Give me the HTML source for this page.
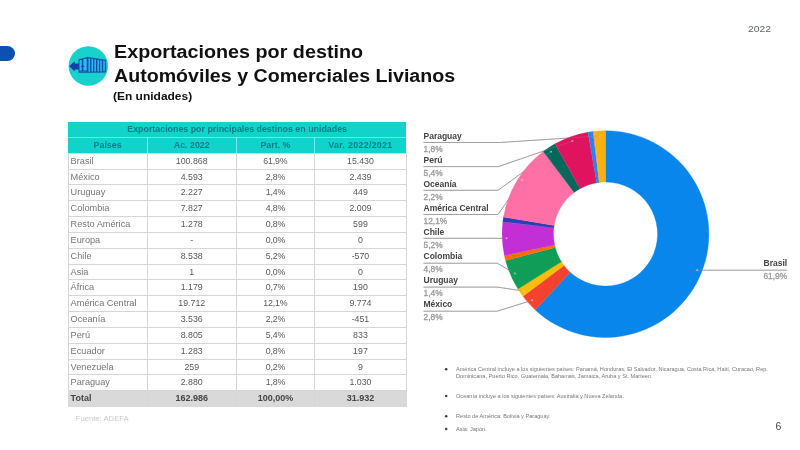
<!DOCTYPE html>
<html lang="es"><head><meta charset="utf-8"><title>Exportaciones por destino</title>
<style>
html,body{margin:0;padding:0;background:#fff;}
body{width:800px;height:450px;position:relative;overflow:hidden;font-family:"Liberation Sans",sans-serif;}
#stage{position:absolute;left:0;top:0;width:800px;height:450px;overflow:hidden;will-change:transform;}
.abs{position:absolute;white-space:nowrap;}
.pill{position:absolute;left:-8px;top:46px;width:22.7px;height:15.2px;border-radius:7.6px;background:#0d50b0;}
.t1{position:absolute;white-space:nowrap;left:114.3px;font-weight:bold;color:#111;font-size:18px;line-height:20px;transform-origin:0 0;transform:scaleX(1.097);}
.t3{position:absolute;white-space:nowrap;left:113.0px;font-weight:bold;color:#111;font-size:11.3px;line-height:12px;transform-origin:0 0;transform:scaleX(1.06);}
.yr{position:absolute;left:748px;top:23.2px;font-size:9.3px;line-height:12px;color:#60656d;transform-origin:0 0;transform:scaleX(1.11);}
.pg{position:absolute;left:775.5px;top:418.6px;font-size:10.5px;line-height:14px;color:#484848;}
.c{position:absolute;white-space:nowrap;text-align:center;font-size:9px;overflow:hidden;}
.h{color:#0b7d84;font-weight:bold;font-size:8.85px;}
.ls1{letter-spacing:0px;}
.ls2{letter-spacing:0.3px;}
.n{color:#747474;font-size:9.2px;}
.v{color:#585858;font-size:8.8px;}
.p{letter-spacing:-0.15px;}
.tn,.tv{color:#444;font-weight:bold;font-size:9px;}
.hbg{position:absolute;background:#12d3cc;}
.tbg{position:absolute;background:#d9d9d9;}
.gh{position:absolute;height:1px;background:#d6d6d6;}
.gv{position:absolute;width:1px;background:#d6d6d6;}
.src{position:absolute;left:75.7px;top:414.2px;font-size:7.7px;line-height:10px;color:#cacaca;}
.ln{font:bold 8.5px "Liberation Sans",sans-serif;fill:#424242;}
.lp{font:8.4px "Liberation Sans",sans-serif;fill:#999;stroke:#999;stroke-width:0.3px;}
.note{position:absolute;left:456px;font-size:5.58px;line-height:7.3px;color:#777;white-space:nowrap;}
.bul{position:absolute;left:444.9px;width:2.7px;height:2.7px;border-radius:50%;background:#444;}
</style></head><body><div id="stage">
<div class="pill"></div>
<svg class="abs" style="left:0;top:0" width="800" height="450" viewBox="0 0 800 450">
<circle cx="88.3" cy="66" r="19.7" fill="#16d1cc"/>
<g>
<polygon points="69.1,66.2 74.7,61.3 74.7,63.6 79.2,63.6 79.2,69.6 74.7,69.6 74.7,71.6" fill="#1440ad"/>
<polygon points="78.8,59.5 87.5,57.3 105.8,60.1 105.8,72.2 87.5,72.6 78.8,72.5" fill="#0e4da6" stroke="#0e4da6" stroke-width="0.5" stroke-linejoin="round"/>
<polygon points="88.50,58.35 90.05,58.59 90.05,71.64 88.50,71.68" fill="#2dbdf3"/>
<polygon points="91.45,58.80 93.00,59.04 93.00,71.58 91.45,71.61" fill="#2dbdf3"/>
<polygon points="94.40,59.26 95.95,59.49 95.95,71.52 94.40,71.55" fill="#2dbdf3"/>
<polygon points="97.35,59.71 98.90,59.94 98.90,71.45 97.35,71.48" fill="#2dbdf3"/>
<polygon points="100.30,60.16 101.85,60.40 101.85,71.39 100.30,71.42" fill="#2dbdf3"/>
<polygon points="103.25,60.61 104.80,60.85 104.80,71.32 103.25,71.36" fill="#2dbdf3"/>
<polygon points="79.50,60.22 81.70,59.67 81.70,70.6 79.50,70.6" fill="#2dbdf3"/>
<polygon points="83.40,59.24 86.70,58.40 86.70,70.6 83.40,70.6" fill="#2dbdf3"/>
<rect x="79.5" y="71.4" width="7.2" height="0.5" fill="#2dbdf3" opacity="0.6"/>
<rect x="80.8" y="65.9" width="3.6" height="0.9" fill="#0e4da6"/>
</g>
<polyline points="423.5,142.5 500.3,142.5 599.5,136.0" fill="none" stroke="#8d8d8d" stroke-width="0.8"/>
<polyline points="423.5,166.6 498.4,166.6 572.4,141.1" fill="none" stroke="#8d8d8d" stroke-width="0.8"/>
<polyline points="423.5,190.3 498.0,190.3 551.0,151.7" fill="none" stroke="#8d8d8d" stroke-width="0.8"/>
<polyline points="423.5,214.5 498.0,214.5 522.0,180.0" fill="none" stroke="#8d8d8d" stroke-width="0.8"/>
<polyline points="423.5,238.3 506.6,238.3 506.6,238.3" fill="none" stroke="#8d8d8d" stroke-width="0.8"/>
<polyline points="423.5,263.2 497.2,263.2 515.0,273.5" fill="none" stroke="#8d8d8d" stroke-width="0.8"/>
<polyline points="423.5,287.1 497.2,287.1 523.9,291.1" fill="none" stroke="#8d8d8d" stroke-width="0.8"/>
<polyline points="423.5,311.2 497.2,311.2 532.1,300.3" fill="none" stroke="#8d8d8d" stroke-width="0.8"/>
<polyline points="697.2,270.2 787.2,270.2" fill="none" stroke="#8d8d8d" stroke-width="0.8"/>
<path d="M605.50,130.65A103.4,103.4 0 1 1 535.25,309.92L570.17,272.21A52.0,52.0 0 1 0 605.50,182.05Z" fill="#0886ec" stroke="#0886ec" stroke-width="0.3"/>
<path d="M535.25,309.92A103.4,103.4 0 0 1 522.99,296.36L564.00,265.39A52.0,52.0 0 0 0 570.17,272.21Z" fill="#f4422f" stroke="#f4422f" stroke-width="0.3"/>
<path d="M522.99,296.36A103.4,103.4 0 0 1 517.95,289.06L561.47,261.71A52.0,52.0 0 0 0 564.00,265.39Z" fill="#fbbc04" stroke="#fbbc04" stroke-width="0.3"/>
<path d="M517.95,289.06A103.4,103.4 0 0 1 505.55,260.56L555.24,247.38A52.0,52.0 0 0 0 561.47,261.71Z" fill="#0f9d58" stroke="#0f9d58" stroke-width="0.3"/>
<path d="M505.55,260.56A103.4,103.4 0 0 1 504.37,255.60L554.64,244.89A52.0,52.0 0 0 0 555.24,247.38Z" fill="#ff6d0a" stroke="#ff6d0a" stroke-width="0.3"/>
<path d="M504.37,255.60A103.4,103.4 0 0 1 502.83,221.76L553.87,227.87A52.0,52.0 0 0 0 554.64,244.89Z" fill="#c32fd6" stroke="#c32fd6" stroke-width="0.3"/>
<path d="M502.83,221.76A103.4,103.4 0 0 1 502.83,221.75L553.87,227.87A52.0,52.0 0 0 0 553.87,227.87Z" fill="#888888" stroke="#888888" stroke-width="0.3"/>
<path d="M502.83,221.75A103.4,103.4 0 0 1 503.50,217.10L554.20,225.53A52.0,52.0 0 0 0 553.87,227.87Z" fill="#2e3db5" stroke="#2e3db5" stroke-width="0.3"/>
<path d="M503.50,217.10A103.4,103.4 0 0 1 543.24,151.50L574.19,192.54A52.0,52.0 0 0 0 554.20,225.53Z" fill="#ff70a6" stroke="#ff70a6" stroke-width="0.3"/>
<path d="M543.24,151.50A103.4,103.4 0 0 1 555.03,143.80L580.12,188.66A52.0,52.0 0 0 0 574.19,192.54Z" fill="#00695c" stroke="#00695c" stroke-width="0.3"/>
<path d="M555.03,143.80A103.4,103.4 0 0 1 587.96,132.15L596.68,182.80A52.0,52.0 0 0 0 580.12,188.66Z" fill="#e0135f" stroke="#e0135f" stroke-width="0.3"/>
<path d="M587.96,132.15A103.4,103.4 0 0 1 593.02,131.41L599.22,182.43A52.0,52.0 0 0 0 596.68,182.80Z" fill="#2286ea" stroke="#2286ea" stroke-width="0.3"/>
<path d="M593.02,131.41A103.4,103.4 0 0 1 594.04,131.29L599.74,182.37A52.0,52.0 0 0 0 599.22,182.43Z" fill="#ff8a65" stroke="#ff8a65" stroke-width="0.3"/>
<path d="M594.04,131.29A103.4,103.4 0 0 1 605.50,130.65L605.50,182.05A52.0,52.0 0 0 0 599.74,182.37Z" fill="#fbb208" stroke="#fbb208" stroke-width="0.3"/>
<polyline points="423.5,142.5 500.3,142.5 599.5,136.0" fill="none" stroke="#9a9a9a" stroke-opacity="0.35" stroke-width="0.8"/>
<circle cx="599.5" cy="136.0" r="1.0" fill="#d0d0d0" fill-opacity="0.7"/>
<text x="423.5" y="138.7" class="ln">Paraguay</text>
<text x="423.5" y="151.5" class="lp">1,8%</text>
<polyline points="423.5,166.6 498.4,166.6 572.4,141.1" fill="none" stroke="#9a9a9a" stroke-opacity="0.35" stroke-width="0.8"/>
<circle cx="572.4" cy="141.1" r="1.0" fill="#d0d0d0" fill-opacity="0.7"/>
<text x="423.5" y="162.8" class="ln">Perú</text>
<text x="423.5" y="175.6" class="lp">5,4%</text>
<polyline points="423.5,190.3 498.0,190.3 551.0,151.7" fill="none" stroke="#9a9a9a" stroke-opacity="0.35" stroke-width="0.8"/>
<circle cx="551.0" cy="151.7" r="1.0" fill="#d0d0d0" fill-opacity="0.7"/>
<text x="423.5" y="186.8" class="ln">Oceanía</text>
<text x="423.5" y="199.6" class="lp">2,2%</text>
<polyline points="423.5,214.5 498.0,214.5 522.0,180.0" fill="none" stroke="#9a9a9a" stroke-opacity="0.35" stroke-width="0.8"/>
<circle cx="522.0" cy="180.0" r="1.0" fill="#d0d0d0" fill-opacity="0.7"/>
<text x="423.5" y="210.8" class="ln">América Central</text>
<text x="423.5" y="223.6" class="lp">12,1%</text>
<polyline points="423.5,238.3 506.6,238.3 506.6,238.3" fill="none" stroke="#9a9a9a" stroke-opacity="0.35" stroke-width="0.8"/>
<circle cx="506.6" cy="238.3" r="1.0" fill="#d0d0d0" fill-opacity="0.7"/>
<text x="423.5" y="235.0" class="ln">Chile</text>
<text x="423.5" y="247.8" class="lp">5,2%</text>
<polyline points="423.5,263.2 497.2,263.2 515.0,273.5" fill="none" stroke="#9a9a9a" stroke-opacity="0.35" stroke-width="0.8"/>
<circle cx="515.0" cy="273.5" r="1.0" fill="#d0d0d0" fill-opacity="0.7"/>
<text x="423.5" y="259.2" class="ln">Colombia</text>
<text x="423.5" y="272.0" class="lp">4,8%</text>
<polyline points="423.5,287.1 497.2,287.1 523.9,291.1" fill="none" stroke="#9a9a9a" stroke-opacity="0.35" stroke-width="0.8"/>
<circle cx="523.9" cy="291.1" r="1.0" fill="#d0d0d0" fill-opacity="0.7"/>
<text x="423.5" y="283.2" class="ln">Uruguay</text>
<text x="423.5" y="296.0" class="lp">1,4%</text>
<polyline points="423.5,311.2 497.2,311.2 532.1,300.3" fill="none" stroke="#9a9a9a" stroke-opacity="0.35" stroke-width="0.8"/>
<circle cx="532.1" cy="300.3" r="1.0" fill="#d0d0d0" fill-opacity="0.7"/>
<text x="423.5" y="307.4" class="ln">México</text>
<text x="423.5" y="320.2" class="lp">2,8%</text>
<polyline points="697.2,270.2 787.2,270.2" fill="none" stroke="#9a9a9a" stroke-opacity="0.35" stroke-width="0.8"/>
<circle cx="697.2" cy="270.2" r="1.1" fill="#9ab4d6"/>
<text x="787.2" y="266.4" class="ln" text-anchor="end">Brasil</text>
<text x="787.2" y="279.2" class="lp" text-anchor="end">61,9%</text>
<g fill="#3c3c3c"><circle cx="446.2" cy="369.2" r="1.25"/><circle cx="446.2" cy="396.1" r="1.25"/><circle cx="446.2" cy="416.2" r="1.25"/><circle cx="446.2" cy="429.0" r="1.25"/></g>
</svg>
<div class="t1" id="t1a" style="top:41.9px">Exportaciones por destino</div>
<div class="t1" id="t1b" style="top:66.4px;transform:scaleX(1.0895)">Automóviles y Comerciales Livianos</div>
<div class="t3" id="t3" style="top:89.8px">(En unidades)</div>
<div class="yr">2022</div>
<div class="pg">6</div>
<div class="hbg" style="left:68.0px;top:121.9px;width:338.30px;height:31.40px"></div>
<div class="tbg" style="left:68.0px;top:390.83px;width:338.30px;height:15.84px"></div>
<div class="c h" style="left:68.00px;top:121.90px;width:338.30px;height:15.20px;line-height:15.20px;">Exportaciones por principales destinos en unidades</div>
<div class="c h" style="left:68.00px;top:137.10px;width:79.20px;height:16.20px;line-height:16.20px;">Países</div>
<div class="c h ls1" style="left:147.20px;top:137.10px;width:89.10px;height:16.20px;line-height:16.20px;">Ac. 2022</div>
<div class="c h" style="left:236.30px;top:137.10px;width:78.30px;height:16.20px;line-height:16.20px;">Part. %</div>
<div class="c h ls2" style="left:314.60px;top:137.10px;width:91.70px;height:16.20px;line-height:16.20px;">Var. 2022/2021</div>
<div class="c n" style="left:68.00px;top:153.80px;width:79.20px;height:15.84px;line-height:15.84px;text-align:left;padding-left:2.6px;box-sizing:border-box;">Brasil</div>
<div class="c v" style="left:147.20px;top:153.80px;width:89.10px;height:15.84px;line-height:15.84px;">100.868</div>
<div class="c v p" style="left:236.30px;top:153.80px;width:78.30px;height:15.84px;line-height:15.84px;">61,9%</div>
<div class="c v" style="left:314.60px;top:153.80px;width:91.70px;height:15.84px;line-height:15.84px;">15.430</div>
<div class="c n" style="left:68.00px;top:169.64px;width:79.20px;height:15.84px;line-height:15.84px;text-align:left;padding-left:2.6px;box-sizing:border-box;">México</div>
<div class="c v" style="left:147.20px;top:169.64px;width:89.10px;height:15.84px;line-height:15.84px;">4.593</div>
<div class="c v p" style="left:236.30px;top:169.64px;width:78.30px;height:15.84px;line-height:15.84px;">2,8%</div>
<div class="c v" style="left:314.60px;top:169.64px;width:91.70px;height:15.84px;line-height:15.84px;">2.439</div>
<div class="c n" style="left:68.00px;top:185.47px;width:79.20px;height:15.84px;line-height:15.84px;text-align:left;padding-left:2.6px;box-sizing:border-box;">Uruguay</div>
<div class="c v" style="left:147.20px;top:185.47px;width:89.10px;height:15.84px;line-height:15.84px;">2.227</div>
<div class="c v p" style="left:236.30px;top:185.47px;width:78.30px;height:15.84px;line-height:15.84px;">1,4%</div>
<div class="c v" style="left:314.60px;top:185.47px;width:91.70px;height:15.84px;line-height:15.84px;">449</div>
<div class="c n" style="left:68.00px;top:201.31px;width:79.20px;height:15.84px;line-height:15.84px;text-align:left;padding-left:2.6px;box-sizing:border-box;">Colombia</div>
<div class="c v" style="left:147.20px;top:201.31px;width:89.10px;height:15.84px;line-height:15.84px;">7.827</div>
<div class="c v p" style="left:236.30px;top:201.31px;width:78.30px;height:15.84px;line-height:15.84px;">4,8%</div>
<div class="c v" style="left:314.60px;top:201.31px;width:91.70px;height:15.84px;line-height:15.84px;">2.009</div>
<div class="c n" style="left:68.00px;top:217.14px;width:79.20px;height:15.84px;line-height:15.84px;text-align:left;padding-left:2.6px;box-sizing:border-box;">Resto América</div>
<div class="c v" style="left:147.20px;top:217.14px;width:89.10px;height:15.84px;line-height:15.84px;">1.278</div>
<div class="c v p" style="left:236.30px;top:217.14px;width:78.30px;height:15.84px;line-height:15.84px;">0,8%</div>
<div class="c v" style="left:314.60px;top:217.14px;width:91.70px;height:15.84px;line-height:15.84px;">599</div>
<div class="c n" style="left:68.00px;top:232.98px;width:79.20px;height:15.84px;line-height:15.84px;text-align:left;padding-left:2.6px;box-sizing:border-box;">Europa</div>
<div class="c v" style="left:147.20px;top:232.98px;width:89.10px;height:15.84px;line-height:15.84px;">-</div>
<div class="c v p" style="left:236.30px;top:232.98px;width:78.30px;height:15.84px;line-height:15.84px;">0,0%</div>
<div class="c v" style="left:314.60px;top:232.98px;width:91.70px;height:15.84px;line-height:15.84px;">0</div>
<div class="c n" style="left:68.00px;top:248.81px;width:79.20px;height:15.83px;line-height:15.83px;text-align:left;padding-left:2.6px;box-sizing:border-box;">Chile</div>
<div class="c v" style="left:147.20px;top:248.81px;width:89.10px;height:15.83px;line-height:15.83px;">8.538</div>
<div class="c v p" style="left:236.30px;top:248.81px;width:78.30px;height:15.83px;line-height:15.83px;">5,2%</div>
<div class="c v" style="left:314.60px;top:248.81px;width:91.70px;height:15.83px;line-height:15.83px;">-570</div>
<div class="c n" style="left:68.00px;top:264.64px;width:79.20px;height:15.83px;line-height:15.83px;text-align:left;padding-left:2.6px;box-sizing:border-box;">Asia</div>
<div class="c v" style="left:147.20px;top:264.64px;width:89.10px;height:15.83px;line-height:15.83px;">1</div>
<div class="c v p" style="left:236.30px;top:264.64px;width:78.30px;height:15.83px;line-height:15.83px;">0,0%</div>
<div class="c v" style="left:314.60px;top:264.64px;width:91.70px;height:15.83px;line-height:15.83px;">0</div>
<div class="c n" style="left:68.00px;top:280.48px;width:79.20px;height:15.83px;line-height:15.83px;text-align:left;padding-left:2.6px;box-sizing:border-box;">África</div>
<div class="c v" style="left:147.20px;top:280.48px;width:89.10px;height:15.83px;line-height:15.83px;">1.179</div>
<div class="c v p" style="left:236.30px;top:280.48px;width:78.30px;height:15.83px;line-height:15.83px;">0,7%</div>
<div class="c v" style="left:314.60px;top:280.48px;width:91.70px;height:15.83px;line-height:15.83px;">190</div>
<div class="c n" style="left:68.00px;top:296.32px;width:79.20px;height:15.83px;line-height:15.83px;text-align:left;padding-left:2.6px;box-sizing:border-box;">América Central</div>
<div class="c v" style="left:147.20px;top:296.32px;width:89.10px;height:15.83px;line-height:15.83px;">19.712</div>
<div class="c v p" style="left:236.30px;top:296.32px;width:78.30px;height:15.83px;line-height:15.83px;">12,1%</div>
<div class="c v" style="left:314.60px;top:296.32px;width:91.70px;height:15.83px;line-height:15.83px;">9.774</div>
<div class="c n" style="left:68.00px;top:312.15px;width:79.20px;height:15.83px;line-height:15.83px;text-align:left;padding-left:2.6px;box-sizing:border-box;">Oceanía</div>
<div class="c v" style="left:147.20px;top:312.15px;width:89.10px;height:15.83px;line-height:15.83px;">3.536</div>
<div class="c v p" style="left:236.30px;top:312.15px;width:78.30px;height:15.83px;line-height:15.83px;">2,2%</div>
<div class="c v" style="left:314.60px;top:312.15px;width:91.70px;height:15.83px;line-height:15.83px;">-451</div>
<div class="c n" style="left:68.00px;top:327.99px;width:79.20px;height:15.83px;line-height:15.83px;text-align:left;padding-left:2.6px;box-sizing:border-box;">Perú</div>
<div class="c v" style="left:147.20px;top:327.99px;width:89.10px;height:15.83px;line-height:15.83px;">8.805</div>
<div class="c v p" style="left:236.30px;top:327.99px;width:78.30px;height:15.83px;line-height:15.83px;">5,4%</div>
<div class="c v" style="left:314.60px;top:327.99px;width:91.70px;height:15.83px;line-height:15.83px;">833</div>
<div class="c n" style="left:68.00px;top:343.82px;width:79.20px;height:15.83px;line-height:15.83px;text-align:left;padding-left:2.6px;box-sizing:border-box;">Ecuador</div>
<div class="c v" style="left:147.20px;top:343.82px;width:89.10px;height:15.83px;line-height:15.83px;">1.283</div>
<div class="c v p" style="left:236.30px;top:343.82px;width:78.30px;height:15.83px;line-height:15.83px;">0,8%</div>
<div class="c v" style="left:314.60px;top:343.82px;width:91.70px;height:15.83px;line-height:15.83px;">197</div>
<div class="c n" style="left:68.00px;top:359.66px;width:79.20px;height:15.83px;line-height:15.83px;text-align:left;padding-left:2.6px;box-sizing:border-box;">Venezuela</div>
<div class="c v" style="left:147.20px;top:359.66px;width:89.10px;height:15.83px;line-height:15.83px;">259</div>
<div class="c v p" style="left:236.30px;top:359.66px;width:78.30px;height:15.83px;line-height:15.83px;">0,2%</div>
<div class="c v" style="left:314.60px;top:359.66px;width:91.70px;height:15.83px;line-height:15.83px;">9</div>
<div class="c n" style="left:68.00px;top:375.49px;width:79.20px;height:15.83px;line-height:15.83px;text-align:left;padding-left:2.6px;box-sizing:border-box;">Paraguay</div>
<div class="c v" style="left:147.20px;top:375.49px;width:89.10px;height:15.83px;line-height:15.83px;">2.880</div>
<div class="c v p" style="left:236.30px;top:375.49px;width:78.30px;height:15.83px;line-height:15.83px;">1,8%</div>
<div class="c v" style="left:314.60px;top:375.49px;width:91.70px;height:15.83px;line-height:15.83px;">1.030</div>
<div class="c tn" style="left:68.00px;top:390.83px;width:79.20px;height:15.83px;line-height:15.83px;text-align:left;padding-left:2.6px;box-sizing:border-box;">Total</div>
<div class="c tv" style="left:147.20px;top:390.83px;width:89.10px;height:15.83px;line-height:15.83px;">162.986</div>
<div class="c tv" style="left:236.30px;top:390.83px;width:78.30px;height:15.83px;line-height:15.83px;">100,00%</div>
<div class="c tv" style="left:314.60px;top:390.83px;width:91.70px;height:15.83px;line-height:15.83px;">31.932</div>
<div class="gh" style="left:68.0px;top:152.80px;width:338.30px"></div>
<div class="gh" style="left:68.0px;top:168.64px;width:338.30px"></div>
<div class="gh" style="left:68.0px;top:184.47px;width:338.30px"></div>
<div class="gh" style="left:68.0px;top:200.31px;width:338.30px"></div>
<div class="gh" style="left:68.0px;top:216.14px;width:338.30px"></div>
<div class="gh" style="left:68.0px;top:231.98px;width:338.30px"></div>
<div class="gh" style="left:68.0px;top:247.81px;width:338.30px"></div>
<div class="gh" style="left:68.0px;top:263.64px;width:338.30px"></div>
<div class="gh" style="left:68.0px;top:279.48px;width:338.30px"></div>
<div class="gh" style="left:68.0px;top:295.32px;width:338.30px"></div>
<div class="gh" style="left:68.0px;top:311.15px;width:338.30px"></div>
<div class="gh" style="left:68.0px;top:326.99px;width:338.30px"></div>
<div class="gh" style="left:68.0px;top:342.82px;width:338.30px"></div>
<div class="gh" style="left:68.0px;top:358.66px;width:338.30px"></div>
<div class="gh" style="left:68.0px;top:374.49px;width:338.30px"></div>
<div class="gh" style="left:68.0px;top:390.33px;width:338.30px"></div>
<div class="gh" style="left:68.0px;top:136.60px;width:338.30px;background:rgba(255,255,255,0.4)"></div>
<div class="gv" style="left:67.50px;top:153.30px;height:253.36px"></div>
<div class="gv" style="left:146.70px;top:137.10px;height:16.20px;background:rgba(255,255,255,0.45)"></div>
<div class="gv" style="left:146.70px;top:153.30px;height:253.36px"></div>
<div class="gv" style="left:235.80px;top:137.10px;height:16.20px;background:rgba(255,255,255,0.45)"></div>
<div class="gv" style="left:235.80px;top:153.30px;height:253.36px"></div>
<div class="gv" style="left:314.10px;top:137.10px;height:16.20px;background:rgba(255,255,255,0.45)"></div>
<div class="gv" style="left:314.10px;top:153.30px;height:253.36px"></div>
<div class="gv" style="left:405.80px;top:153.30px;height:253.36px"></div>
<div class="src">Fuente: ADEFA</div>
<div class="note" style="top:366.0px">América Central incluye a los siguientes países: Panamá, Honduras, El Salvador, Nicaragua, Costa Rica, Haití, Curacao, Rep.<br>Dominicana, Puerto Rico, Guatemala, Bahamas, Jamaica, Aruba y St. Marteen.</div>
<div class="note" style="top:393.3px">Oceanía incluye a los siguientes países: Australia y Nueva Zelanda.</div>
<div class="note" style="top:413.2px">Resto de América: Bolivia y Paraguay.</div>
<div class="note" style="top:426.0px">Asia: Japón.</div>
</div></body></html>
